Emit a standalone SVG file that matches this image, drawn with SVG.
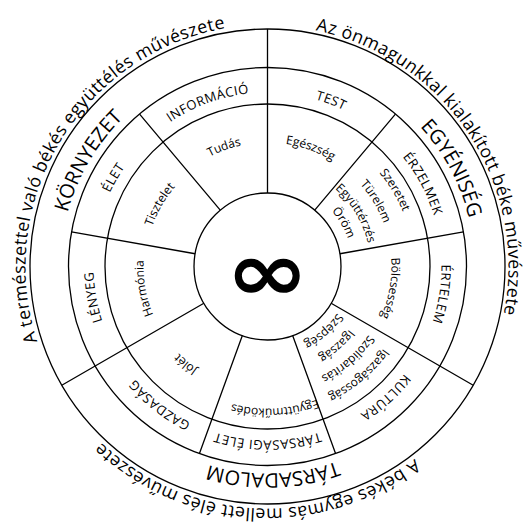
<svg xmlns="http://www.w3.org/2000/svg" xmlns:xlink="http://www.w3.org/1999/xlink" width="523" height="527" viewBox="0 0 523 527">
<style>
  .ln { fill: none; stroke: #000; stroke-width: 1.3; }
  text { font-family: "Open Sans", "Noto Sans", sans-serif; fill: #000; text-anchor: middle; }
  .outer { font-size: 17.8px; letter-spacing: 0.4px; }
  .big { font-size: 20px; }
  .cap { font-size: 13px; letter-spacing: 0.5px; }
  .word { font-size: 12px; }
  .inf { font-family: "DejaVu Sans", sans-serif; font-weight: bold; font-size: 82px; }
</style>
<defs>
  <path id="r242" d="M0,242 A242,242 0 1 1 0,-242 A242,242 0 1 1 0,242"/>
  <path id="r241" d="M0,241 A241,241 0 1 1 0,-241 A241,241 0 1 1 0,241"/>
  <path id="r207" d="M0,207 A207,207 0 1 1 0,-207 A207,207 0 1 1 0,207"/>
  <path id="r174" d="M0,174 A174,174 0 1 1 0,-174 A174,174 0 1 1 0,174"/>
  <path id="r146" d="M0,146 A146,146 0 1 1 0,-146 A146,146 0 1 1 0,146"/>
  <path id="r142" d="M0,142 A142,142 0 1 1 0,-142 A142,142 0 1 1 0,142"/>
  <path id="r124" d="M0,124 A124,124 0 1 1 0,-124 A124,124 0 1 1 0,124"/>
  <path id="r122" d="M0,122 A122,122 0 1 1 0,-122 A122,122 0 1 1 0,122"/>
  <path id="r103" d="M0,103 A103,103 0 1 1 0,-103 A103,103 0 1 1 0,103"/>
  <path id="r85" d="M0,85 A85,85 0 1 1 0,-85 A85,85 0 1 1 0,85"/>
  <path id="r84" d="M0,84 A84,84 0 1 1 0,-84 A84,84 0 1 1 0,84"/>
</defs>
<g transform="translate(267.5 266.5)">
  <g id="connectors">
    <circle class="ln" r="237.5"/>
    <circle class="ln" r="199"/>
    <circle class="ln" r="162.5"/>
    <circle class="ln" r="73.5"/>
    <path class="ln" d="M0,-73.5 L0,-237.5 M63.65,36.75 L205.7,118.75 M-63.65,36.75 L-205.7,118.75"/>
    <path class="ln" d="M-72.38,-12.76 L-195.98,-34.55 M-47.25,-56.3 L-127.91,-152.44 M47.25,-56.3 L127.91,-152.44 M72.38,-12.76 L195.98,-34.55 M25.14,69.07 L68.06,187 M-25.14,69.07 L-68.06,187"/>
  </g>
  <g id="center">
    <text class="inf" transform="translate(0 33) scale(1.22 1)" x="0" y="0">∞</text>
  </g>
  <g id="outer-labels">
    <text class="outer" transform="rotate(56.5)"><textPath xlink:href="#r241" href="#r241" startOffset="50%">Az önmagunkkal kialakított béke művészete</textPath></text>
    <text class="outer" transform="rotate(301)"><textPath xlink:href="#r242" href="#r242" startOffset="50%">A természettel való békés együttélés művészete</textPath></text>
    <text class="outer" transform="rotate(183)"><textPath xlink:href="#r242" href="#r242" startOffset="50%">A békés egymás mellett élés művészete</textPath></text>
  </g>
  <g id="kornyezet">
    <text class="big" transform="rotate(300.5)"><textPath xlink:href="#r207" href="#r207" startOffset="50%">KÖRNYEZET</textPath></text>
    <g id="informacio">
      <text class="cap" transform="rotate(340)"><textPath xlink:href="#r174" href="#r174" startOffset="50%">INFORMÁCIÓ</textPath></text>
      <text class="word" transform="rotate(340)"><textPath xlink:href="#r124" href="#r124" startOffset="50%">Tudás</textPath></text>
    </g>
    <g id="elet">
      <text class="cap" transform="rotate(300)"><textPath xlink:href="#r174" href="#r174" startOffset="50%">ÉLET</textPath></text>
      <text class="word" transform="rotate(300)"><textPath xlink:href="#r122" href="#r122" startOffset="50%">Tisztelet</textPath></text>
    </g>
    <g id="lenyeg">
      <text class="cap" transform="rotate(260)"><textPath xlink:href="#r174" href="#r174" startOffset="50%">LÉNYEG</textPath></text>
      <text class="word" transform="rotate(260)"><textPath xlink:href="#r124" href="#r124" startOffset="50%">Harmónia</textPath></text>
    </g>
  </g>
  <g id="egyeniseg">
    <text class="big" transform="rotate(62)"><textPath xlink:href="#r207" href="#r207" startOffset="50%">EGYÉNISÉG</textPath></text>
    <g id="test">
      <text class="cap" transform="rotate(21)"><textPath xlink:href="#r174" href="#r174" startOffset="50%">TEST</textPath></text>
      <text class="word" transform="rotate(20)"><textPath xlink:href="#r124" href="#r124" startOffset="50%">Egészség</textPath></text>
    </g>
    <g id="erzelmek">
      <text class="cap" transform="rotate(62)"><textPath xlink:href="#r174" href="#r174" startOffset="50%">ÉRZELMEK</textPath></text>
      <text class="word" transform="rotate(59)"><textPath xlink:href="#r146" href="#r146" startOffset="50%">Szeretet</textPath></text>
      <text class="word" transform="rotate(59)"><textPath xlink:href="#r124" href="#r124" startOffset="50%">Türelem</textPath></text>
      <text class="word" transform="rotate(59)"><textPath xlink:href="#r103" href="#r103" startOffset="50%">Együttérzés</textPath></text>
      <text class="word" transform="rotate(60)"><textPath xlink:href="#r85" href="#r85" startOffset="50%">Öröm</textPath></text>
    </g>
    <g id="ertelem">
      <text class="cap" transform="rotate(99)"><textPath xlink:href="#r174" href="#r174" startOffset="50%">ÉRTELEM</textPath></text>
      <text class="word" transform="rotate(100)"><textPath xlink:href="#r124" href="#r124" startOffset="50%">Bölcsesség</textPath></text>
    </g>
  </g>
  <g id="tarsadalom">
    <text class="big" transform="rotate(178.5)"><textPath xlink:href="#r207" href="#r207" startOffset="50%">TÁRSADALOM</textPath></text>
    <g id="kultura">
      <text class="cap" transform="rotate(138)"><textPath xlink:href="#r174" href="#r174" startOffset="50%">KULTÚRA</textPath></text>
      <text class="word" transform="rotate(139)"><textPath xlink:href="#r84" href="#r84" startOffset="50%">Szépség</textPath></text>
      <text class="word" transform="rotate(139)"><textPath xlink:href="#r103" href="#r103" startOffset="50%">Igazság</textPath></text>
      <text class="word" transform="rotate(139)"><textPath xlink:href="#r122" href="#r122" startOffset="50%">Szolidaritás</textPath></text>
      <text class="word" transform="rotate(140)"><textPath xlink:href="#r142" href="#r142" startOffset="50%">Igazságosság</textPath></text>
    </g>
    <g id="tarsasagi-elet">
      <text class="cap" transform="rotate(180)"><textPath xlink:href="#r174" href="#r174" startOffset="50%">TÁRSASÁGI ÉLET</textPath></text>
      <text class="word" transform="rotate(177)"><textPath xlink:href="#r142" href="#r142" startOffset="50%">Együttműködés</textPath></text>
    </g>
    <g id="gazdasag">
      <text class="cap" transform="rotate(218)"><textPath xlink:href="#r174" href="#r174" startOffset="50%">GAZDASÁG</textPath></text>
      <text class="word" transform="rotate(220)"><textPath xlink:href="#r124" href="#r124" startOffset="50%">Jólét</textPath></text>
    </g>
  </g>
</g>
</svg>
